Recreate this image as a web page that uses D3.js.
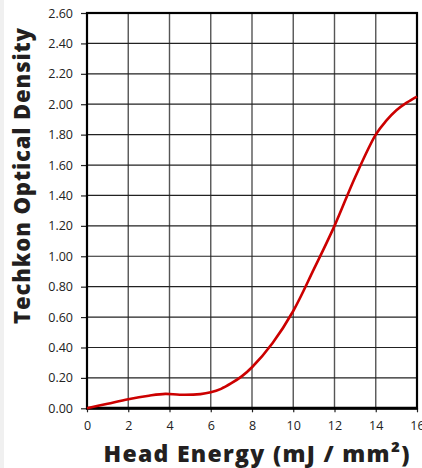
<!DOCTYPE html>
<html><head><meta charset="utf-8">
<script src="https://cdn.jsdelivr.net/npm/d3@7"></script>
<style>
html,body{margin:0;padding:0;background:#fff;overflow:hidden;}
svg{display:block;}
</style></head>
<body>
<svg id="chart" width="422" height="468"></svg>
<script>
const energy = [0, 1, 2, 3, 3.8, 4.5, 5.5, 6, 6.5, 7, 7.5, 8, 9, 10, 11, 12, 13, 14, 14.5, 15, 15.5, 16];
const density = [0, 0.03, 0.06, 0.083, 0.095, 0.089, 0.093, 0.105, 0.128, 0.165, 0.21, 0.27, 0.43, 0.64, 0.915, 1.2, 1.52, 1.8, 1.89, 1.96, 2.01, 2.05];
const xTicks = [0, 2, 4, 6, 8, 10, 12, 14, 16];
const yTicks = [0, 0.2, 0.4, 0.6, 0.8, 1.0, 1.2, 1.4, 1.6, 1.8, 2.0, 2.2, 2.4, 2.6];
const xTitle = "Head Energy (mJ / mm²)";
const yTitle = "Techkon Optical Density";

const svg = d3.select("#chart");
const m = {left: 87, right: 417, top: 13, bottom: 408.3};
const x = d3.scaleLinear().domain([0, 16]).range([m.left, m.right]);
const y = d3.scaleLinear().domain([0, 2.6]).range([m.bottom, m.top]);

svg.append("rect").attr("x",0).attr("y",0).attr("width",4).attr("height",468).attr("fill","#f0f0f0");

// grid
const g = svg.append("g");
g.selectAll("line.v").data(xTicks.slice(1, -1)).join("line")
  .attr("x1", d => x(d)).attr("x2", d => x(d)).attr("y1", m.top).attr("y2", m.bottom)
  .attr("stroke", "#555").attr("stroke-width", 1.4);
g.selectAll("line.h").data(yTicks.slice(1, -1)).join("line")
  .attr("y1", d => y(d)).attr("y2", d => y(d)).attr("x1", m.left).attr("x2", m.right)
  .attr("stroke", "#222").attr("stroke-width", 1.2);

// axes
const yAxis = d3.axisLeft(y).tickValues(yTicks).tickFormat(d3.format(".2f")).tickSize(6).tickPadding(8);
const ya = svg.append("g").attr("transform", `translate(${m.left},0)`).call(yAxis);
ya.select(".domain").remove();
ya.selectAll("line").attr("stroke", "#222").attr("stroke-width", 1.2);
ya.selectAll("text").attr("font-family", "'Open Sans', sans-serif").attr("font-size", 12.5).attr("fill", "#222");

const xAxis = d3.axisBottom(x).tickValues(xTicks).tickFormat(d3.format("d")).tickSize(4).tickPadding(9);
const xa = svg.append("g").attr("transform", `translate(0,${m.bottom})`).call(xAxis);
xa.select(".domain").remove();
xa.selectAll("line").attr("stroke", "#222").attr("stroke-width", 1.2);
xa.selectAll("text").attr("font-family", "'Open Sans', sans-serif").attr("font-size", 12.5).attr("fill", "#222");

// frame
svg.append("rect").attr("x", m.left).attr("y", m.top)
  .attr("width", m.right - m.left).attr("height", m.bottom - m.top)
  .attr("fill", "none").attr("stroke", "#000").attr("stroke-width", 2.2);
svg.append("line").attr("x1", m.left - 1).attr("x2", m.right + 1).attr("y1", m.bottom).attr("y2", m.bottom)
  .attr("stroke", "#000").attr("stroke-width", 3);

// curve
const pts = energy.map((e, i) => [e, density[i]]);
svg.append("path").datum(pts)
  .attr("d", d3.line().x(d => x(d[0])).y(d => y(d[1])).curve(d3.curveCatmullRom.alpha(0.5)))
  .attr("fill", "none").attr("stroke", "#cc0000").attr("stroke-width", 2.6);

// titles
svg.append("text").attr("x", 256.5).attr("y", 462).attr("text-anchor", "middle")
  .attr("font-family", "'Open Sans', sans-serif").attr("font-weight", 800).attr("font-size", 23)
  .attr("textLength", 306).attr("lengthAdjust", "spacing")
  .attr("fill", "#231f20").text(xTitle);
svg.append("text").attr("transform", "translate(30,176) rotate(-90)").attr("text-anchor", "middle")
  .attr("font-family", "'Open Sans', sans-serif").attr("font-weight", 800).attr("font-size", 22)
  .attr("textLength", 296).attr("lengthAdjust", "spacing")
  .attr("fill", "#231f20").text(yTitle);
</script>
</body></html>
